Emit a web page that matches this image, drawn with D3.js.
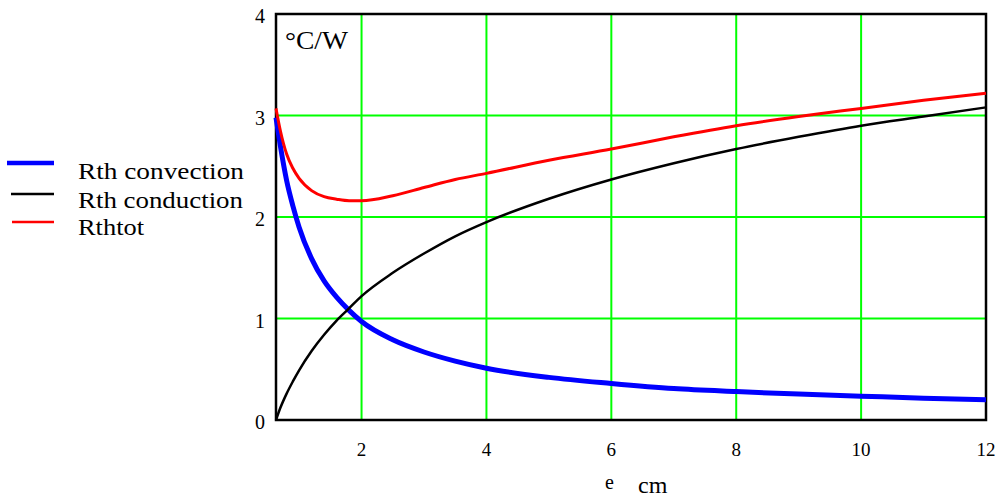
<!DOCTYPE html>
<html>
<head>
<meta charset="utf-8">
<script src="https://cdn.jsdelivr.net/npm/d3@7"></script>
<style>
  body { margin: 0; background: #fff; }
  text { font-family: "Liberation Serif", "Times New Roman", serif; fill: #000; }
</style>
</head>
<body>
<script>
var width = 999,
    height = 497;

// thickness e (cm) at which the curves were read
var eValues = [0.63, 0.7, 0.8, 0.9, 1.0, 1.2, 1.4, 1.6, 1.8, 2, 2.5, 3, 3.5, 4, 5, 6, 7, 8, 9, 10, 11, 12];

// thermal resistances, °C/W
var rthConvection = [2.98, 2.70, 2.36, 2.11, 1.90, 1.59, 1.37, 1.21, 1.08, 0.97, 0.79, 0.67, 0.58, 0.51, 0.42, 0.36, 0.31, 0.28, 0.255, 0.235, 0.215, 0.20];
var rthConduction = [0.00, 0.12, 0.26, 0.38, 0.49, 0.68, 0.84, 0.98, 1.10, 1.22, 1.45, 1.64, 1.81, 1.95, 2.18, 2.37, 2.53, 2.67, 2.79, 2.90, 2.99, 3.08];
var rthTot       = [3.07, 2.85, 2.62, 2.48, 2.38, 2.26, 2.20, 2.175, 2.16, 2.16, 2.21, 2.29, 2.37, 2.43, 2.56, 2.67, 2.79, 2.90, 2.99, 3.07, 3.15, 3.22];

var xTicks = [2, 4, 6, 8, 10, 12],
    yTicks = [0, 1, 2, 3, 4];

var seriesNames = ["Rth convection", "Rth conduction", "Rthtot"];

var svg = d3.select("body")
            .append("svg")
            .attr("width", width)
            .attr("height", height);

var x = d3.scaleLinear()
          .domain([0.63, 12])
          .range([276, 986]);

var y = d3.scaleLinear()
          .domain([0, 4])
          .range([420, 14]);

/* grid */
var grid_g = svg.append("g");

grid_g.selectAll("line.gx")
      .data(xTicks.filter(function(d) { return d < 12; }))
      .enter().append("line")
      .attr("x1", function(d) { return x(d); })
      .attr("x2", function(d) { return x(d); })
      .attr("y1", y(4))
      .attr("y2", y(0))
      .attr("stroke", "#00ff00")
      .attr("stroke-width", 2);

grid_g.selectAll("line.gy")
      .data(yTicks.filter(function(d) { return d > 0 && d < 4; }))
      .enter().append("line")
      .attr("x1", x.range()[0])
      .attr("x2", x.range()[1])
      .attr("y1", function(d) { return y(d); })
      .attr("y2", function(d) { return y(d); })
      .attr("stroke", "#00ff00")
      .attr("stroke-width", 2);

/* frame */
svg.append("rect")
   .attr("x", x.range()[0])
   .attr("y", y(4))
   .attr("width", x.range()[1] - x.range()[0])
   .attr("height", y(0) - y(4))
   .attr("fill", "none")
   .attr("stroke", "#000")
   .attr("stroke-width", 2.5);

/* tick labels */
svg.selectAll("text.xt")
   .data(xTicks)
   .enter().append("text")
   .attr("x", function(d) { return x(d); })
   .attr("y", 456)
   .attr("text-anchor", "middle")
   .attr("font-size", 19)
   .text(function(d) { return d; });

svg.selectAll("text.yt")
   .data(yTicks)
   .enter().append("text")
   .attr("x", 265)
   .attr("y", function(d) { return y(d) + 9; })
   .attr("text-anchor", "end")
   .attr("font-size", 20)
   .text(function(d) { return d; });

svg.append("text")
   .attr("x", 285).attr("y", 49)
   .attr("font-size", 25)
   .attr("textLength", 63)
   .attr("lengthAdjust", "spacingAndGlyphs")
   .text("°C/W");

svg.append("text")
   .attr("x", 605).attr("y", 489)
   .attr("font-size", 20)
   .text("e");

svg.append("text")
   .attr("x", 638).attr("y", 493)
   .attr("font-size", 24)
   .text("cm");

/* curves */
var series = [
  { name: seriesNames[0], values: rthConvection, color: "#0000ff", w: 5 },
  { name: seriesNames[1], values: rthConduction, color: "#000000", w: 2.5 },
  { name: seriesNames[2], values: rthTot, color: "#ff0000", w: 3 }
];

var line = d3.line()
             .x(function(d, i) { return x(eValues[i]); })
             .y(function(d) { return y(d); })
             .curve(d3.curveMonotoneX);

svg.append("g")
   .selectAll("path")
   .data(series)
   .enter().append("path")
   .attr("d", function(d) { return line(d.values); })
   .attr("fill", "none")
   .attr("stroke", function(d) { return d.color; })
   .attr("stroke-width", function(d) { return d.w; });

/* legend */
var legend = [
  { x1: 7,  y: 163, w: 4.5, tl: 166, ty: 179 },
  { x1: 11, y: 194, w: 2.5, tl: 165, ty: 208 },
  { x1: 12, y: 222, w: 2.5, tl: 66,  ty: 235 }
];

var legend_g = svg.append("g");

legend_g.selectAll("line")
        .data(series)
        .enter().append("line")
        .attr("x1", function(d, i) { return legend[i].x1; })
        .attr("x2", 54)
        .attr("y1", function(d, i) { return legend[i].y; })
        .attr("y2", function(d, i) { return legend[i].y; })
        .attr("stroke", function(d) { return d.color; })
        .attr("stroke-width", function(d, i) { return legend[i].w; });

legend_g.selectAll("text")
        .data(series)
        .enter().append("text")
        .attr("x", 78)
        .attr("y", function(d, i) { return legend[i].ty; })
        .attr("font-size", 23)
        .attr("textLength", function(d, i) { return legend[i].tl; })
        .attr("lengthAdjust", "spacingAndGlyphs")
        .text(function(d) { return d.name; });
</script>
</body>
</html>
